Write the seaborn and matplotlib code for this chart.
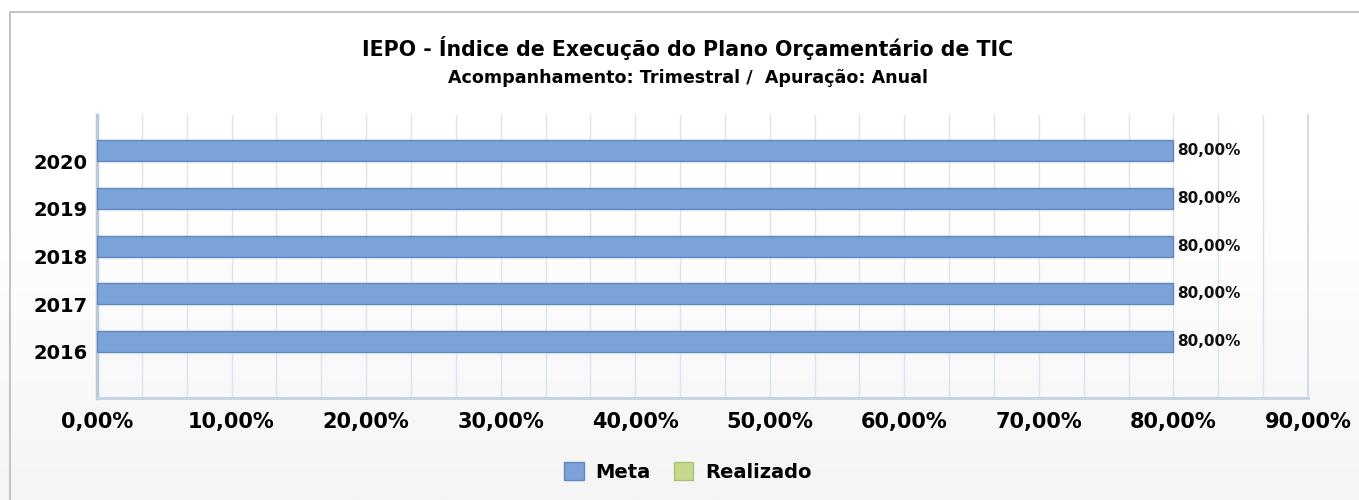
import numpy as np
import pandas as pd
import matplotlib
matplotlib.use("Agg")
import matplotlib.pyplot as plt
from matplotlib.patches import Rectangle
from matplotlib.ticker import MultipleLocator, FuncFormatter
from matplotlib.colors import LinearSegmentedColormap
import seaborn as sns

# ---- data ----
years = ["2020", "2019", "2018", "2017", "2016"]
meta = [80.0, 80.0, 80.0, 80.0, 80.0]
realizado = [np.nan, np.nan, np.nan, np.nan, np.nan]
series = ["Meta", "Realizado"]
title = "IEPO - Índice de Execução do Plano Orçamentário de TIC"
subtitle = "Acompanhamento: Trimestral /  Apuração: Anual"

df = pd.DataFrame({
    "ano": years * 2,
    "valor": meta + realizado,
    "serie": ["Meta"] * len(years) + ["Realizado"] * len(years),
})

sns.set_theme(style="white")
plt.rcParams["font.family"] = ["DejaVu Sans"]

W, H = 1359, 500
fig = plt.figure(figsize=(W / 100, H / 100), dpi=100)

# subtle background gradient
bg = fig.add_axes([0, 0, 1, 1], zorder=-10)
grad = np.linspace(0, 1, 256)
grad = np.clip((grad - 0.4) / 0.6, 0, 1)[:, None]
cm = LinearSegmentedColormap.from_list("g", ["#ffffff", "#f5f5f5"])
bg.imshow(grad, aspect="auto", cmap=cm, extent=[0, 1, 0, 1], origin="upper")
bg.set_axis_off()
# outer frame
fig.patches.append(Rectangle((10 / W, -0.1), 1.2, 1.1 - 12 / H, transform=fig.transFigure,
                             fill=False, edgecolor="#c4c4c4", linewidth=1.5))

ax = fig.add_axes([97 / W, 1 - 398 / H, (1308 - 97) / W, (398 - 115) / H])
ax.patch.set_alpha(0)

sns.barplot(data=df, x="valor", y="ano", hue="serie", hue_order=series, order=years,
            orient="h", palette={"Meta": "#7ba3da", "Realizado": "#c4da8a"},
            saturation=1, width=0.88, edgecolor="#5f86bd", linewidth=1, errorbar=None,
            ax=ax, zorder=3)

ax.set_xlim(0, 90)
ax.set_ylim(4.97, -0.97)
ax.xaxis.set_major_locator(MultipleLocator(10))
ax.xaxis.set_minor_locator(MultipleLocator(10 / 3))
ax.xaxis.set_major_formatter(FuncFormatter(lambda v, p: f"{v:.2f}%".replace(".", ",")))
ax.grid(True, axis="x", which="both", color="#dbe3ee", linewidth=1, zorder=0)
ax.grid(False, axis="y")
ax.set_axisbelow(True)
ax.set_xlabel("")
ax.set_ylabel("")
ax.tick_params(axis="x", which="both", length=0, pad=10, labelsize=15)
ax.tick_params(axis="y", length=0, pad=7, labelsize=14)
for lab in ax.get_xticklabels() + ax.get_yticklabels():
    lab.set_fontweight("bold")
    lab.set_color("#000000")

ax.spines["top"].set_visible(False)
ax.spines["left"].set_color("#b9c9dc")
ax.spines["left"].set_linewidth(2.5)
ax.spines["bottom"].set_color("#c3d2e4")
ax.spines["bottom"].set_linewidth(2)
ax.spines["right"].set_color("#d3dce8")
ax.spines["right"].set_linewidth(1.5)

# value labels
cont = ax.containers[0]
ax.bar_label(cont, labels=[f"{v:.2f}%".replace(".", ",") for v in meta], padding=3,
             fontsize=11, fontweight="bold", color="#111111")

# legend
leg = ax.get_legend()
handles, labels = ax.get_legend_handles_labels()
if leg is not None:
    leg.remove()
lg = fig.legend(handles, labels, loc="center", bbox_to_anchor=(688 / W, 1 - 472 / H), ncol=2,
                frameon=False, prop={"weight": "bold", "size": 14}, handlelength=1.0,
                handleheight=1.0, handletextpad=0.6, columnspacing=1.2)
for t in lg.get_texts():
    t.set_color("#000000")
lg_handles = lg.legend_handles
if len(lg_handles) > 1:
    lg_handles[1].set_edgecolor("#a9c27a")

fig.text(688 / W, 1 - 48 / H, title, ha="center", va="center", fontsize=14.8,
         fontweight="bold", color="#000000")
fig.text(688 / W, 1 - 78 / H, subtitle, ha="center", va="center", fontsize=12.6,
         fontweight="bold", color="#000000")

fig.savefig("out.png", dpi=100)
